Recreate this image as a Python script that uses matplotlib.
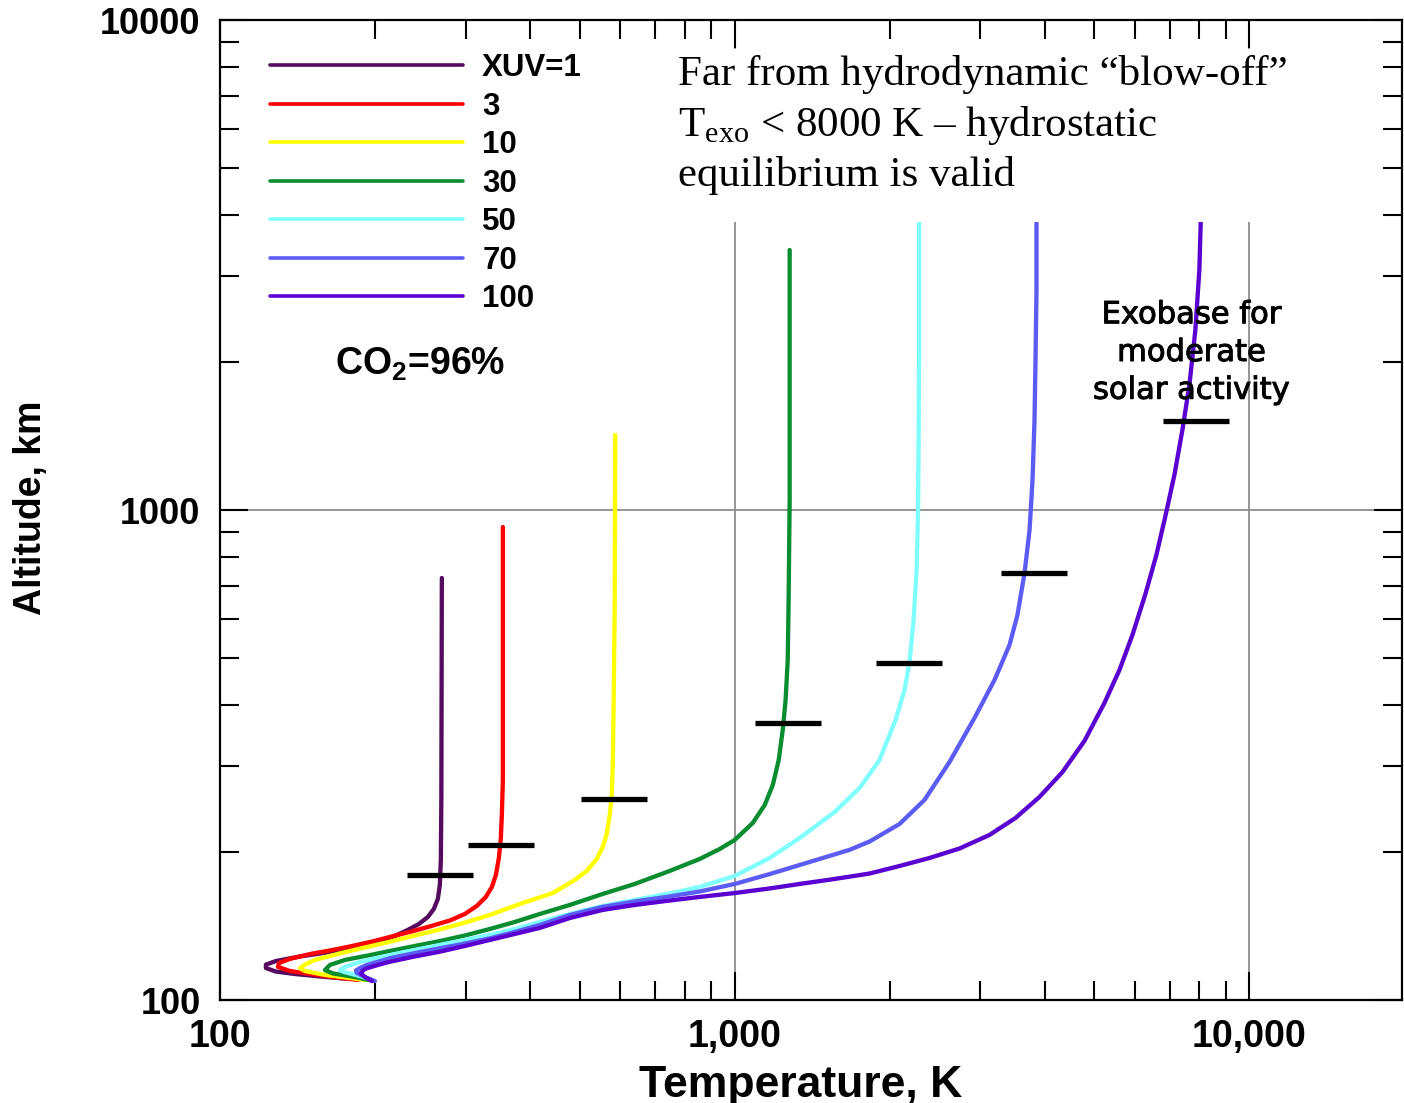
import matplotlib
matplotlib.use("Agg")
import matplotlib.pyplot as plt
import matplotlib.ticker as mticker
import matplotlib.patheffects as pe
from matplotlib.patches import Rectangle

plt.rcParams['mathtext.fontset'] = 'custom'
plt.rcParams['mathtext.rm'] = 'Liberation Serif'
plt.rcParams['mathtext.bf'] = 'Liberation Sans:bold'

# temperature (K) / altitude (km) profiles for CO2 = 96%, one per XUV flux level
xuv_labels = ['XUV=1', '3', '10', '30', '50', '70', '100']
xuv_colors = ['#55095f', '#ff0000', '#ffff00', '#0a8c30', '#80ffff', '#5c5cf5', '#5a00d0']

xuv1_T = [174.9, 156.4, 139.8, 128.4, 122.8, 122.8, 128.4, 143.0, 156.4, 171.0, 187.0, 204.5,
          218.7, 231.7, 243.4, 253.4, 260.3, 265.0, 267.4, 268.6, 269.2, 269.8]
xuv1_z = [110.6, 111.7, 113.0, 114.3, 116.2, 118.1, 120.1, 122.7, 124.4, 126.5, 128.9, 131.9,
          135.1, 139.0, 142.9, 147.7, 153.4, 160.7, 171.7, 193.1, 256.0, 726.5]

xuv3_T = [185.4, 167.2, 149.6, 136.7, 129.6, 130.2, 136.7, 149.6, 163.5, 178.8, 195.6, 213.9,
          233.9, 255.7, 279.7, 299.0, 315.5, 328.5, 337.5, 343.6, 348.2, 351.3, 352.9, 354.5, 354.5]
xuv3_z = [109.9, 111.2, 113.0, 114.6, 116.8, 119.0, 121.3, 124.1, 126.2, 128.6, 131.3, 134.5,
          137.7, 141.3, 145.3, 149.8, 155.6, 162.3, 170.1, 179.9, 194.9, 214.1, 238.6, 281.2, 923.3]

xuv10_T = [191.2, 178.8, 159.9, 146.2, 143.0, 146.2, 152.9, 171.0, 191.2, 213.9, 239.1, 267.4,
           299.0, 334.4, 382.3, 443.2, 489.1, 516.1, 539.5, 554.2, 564.2, 571.9, 577.0, 579.6,
           582.1, 584.8, 586.1]
xuv10_z = [109.9, 110.9, 112.5, 114.6, 116.1, 118.1, 120.7, 124.5, 128.0, 131.5, 135.4, 139.3,
           143.9, 149.1, 157.0, 165.3, 175.8, 183.4, 194.0, 205.2, 218.3, 238.6, 262.0, 301.7,
           409.4, 655.1, 1423]

xuv30_T = [193.8, 182.9, 165.7, 159.9, 163.5, 174.9, 195.6, 213.9, 239.1, 267.4, 299.0, 334.4,
           374.0, 418.2, 478.3, 554.2, 639.3, 747.8, 855.1, 935.3, 1000, 1084, 1144, 1186,
           1218, 1240, 1256, 1268, 1273, 1279, 1279]
xuv30_z = [109.9, 111.4, 113.3, 115.1, 117.9, 120.7, 123.5, 125.9, 128.9, 131.9, 135.4, 139.6,
           144.3, 149.8, 156.3, 164.6, 172.5, 183.4, 194.0, 203.3, 212.1, 229.7, 250.0, 274.7,
           309.0, 355.6, 409.4, 494.3, 655.1, 1048, 3394]

xuv50_T = [197.3, 187.0, 174.1, 171.0, 174.9, 187.0, 213.9, 239.1, 267.4, 299.0, 334.4, 374.0,
           418.2, 478.3, 554.2, 639.3, 747.8, 855.1, 1000, 1169.5, 1337, 1564, 1749, 1912,
           2054, 2138, 2187, 2227, 2257, 2272, 2277, 2282, 2282]
xuv50_z = [109.9, 111.9, 114.1, 115.1, 116.8, 119.6, 123.5, 126.5, 129.5, 132.6, 135.8, 139.6,
           144.3, 149.8, 155.6, 160.0, 165.0, 170.1, 179.1, 194.9, 214.1, 241.9, 270.8, 309.0,
           372.8, 429.2, 489.6, 596.5, 754.3, 1000, 1390, 2121, 4294]

xuv70_T = [200.0, 192.0, 184.5, 183.7, 187.0, 192.9, 213.9, 239.1, 267.4, 299.0, 334.4, 374.0,
           418.2, 478.3, 554.2, 639.3, 747.8, 855.1, 1000, 1169.5, 1462, 1672, 1829, 2091, 2338,
           2615, 2924, 3198, 3420, 3544, 3658, 3741, 3791, 3825, 3842, 3859, 3859]
xuv70_z = [109.3, 111.2, 113.5, 114.9, 116.2, 117.9, 121.7, 124.7, 127.5, 130.4, 133.6, 137.7,
           142.3, 149.1, 154.9, 158.9, 162.7, 166.5, 172.5, 180.7, 194.0, 202.5, 210.6, 228.7, 256.0,
           306.0, 376.3, 449.9, 530.2, 610.7, 743.5, 910.5, 1151, 1527, 2023, 2812, 4294]

xuv100_T = [197.3, 191.2, 187.8, 189.5, 192.9, 202.7, 213.9, 239.1, 267.4, 299.0, 334.4, 374.0,
            418.2, 478.3, 554.2, 639.3, 747.8, 855.1, 1000, 1169.5, 1337, 1564, 1829, 2091,
            2391, 2735, 3127, 3513, 3910, 4335, 4782, 5229, 5594, 5927, 6283, 6598, 6870,
            7152, 7413, 7648, 7855, 7997, 8069]
xuv100_z = [109.3, 111.4, 113.5, 114.9, 116.1, 117.9, 119.7, 122.7, 125.5, 128.9, 132.6, 136.4,
            140.3, 147.0, 152.7, 156.3, 159.6, 162.3, 165.3, 168.9, 172.5, 176.6, 181.2, 187.7,
            194.9, 203.8, 217.2, 235.2, 259.6, 291.9, 337.8, 403.7, 471.6, 555.7, 674.1, 809.4,
            972.2, 1179, 1457, 1799, 2330, 3089, 4294]

profiles_T = [xuv1_T, xuv3_T, xuv10_T, xuv30_T, xuv50_T, xuv70_T, xuv100_T]
profiles_z = [xuv1_z, xuv3_z, xuv10_z, xuv30_z, xuv50_z, xuv70_z, xuv100_z]

# exobase level for each profile
exo_T = [268, 352, 583, 1270, 2183, 3815, 7890]
exo_z = [180, 207, 257, 367, 488, 743, 1519]

x_ticks = [100, 1000, 10000]
y_ticks = [100, 1000, 10000]

fig = plt.figure(figsize=(14.04, 11.03), dpi=100)
ax = fig.add_axes([220 / 1404, 103 / 1103, 1182 / 1404, 980 / 1103])
ax.set_xscale('log')
ax.set_yscale('log')
ax.set_xlim(100, 19800)
ax.set_ylim(100, 10000)

lines = []
for T, z, c, lab in zip(profiles_T, profiles_z, xuv_colors, xuv_labels):
    ln, = ax.plot(T, z, color=c, lw=3.1, label=lab, solid_capstyle='round',
                  solid_joinstyle='round', zorder=2)
    lines.append(ln)

ax.plot(exo_T, exo_z, ls='none', marker='_', ms=47, mew=3.8, color='black', zorder=4)

ax.set_axisbelow(True)
ax.grid(True, which='major', color='#8c8c8c', lw=1.3)

ax.xaxis.set_major_locator(mticker.FixedLocator(x_ticks))
ax.yaxis.set_major_locator(mticker.FixedLocator(y_ticks))
ax.xaxis.set_major_formatter(mticker.FuncFormatter(lambda v, p: '{:,.0f}'.format(v)))
ax.yaxis.set_major_formatter(mticker.FuncFormatter(lambda v, p: '{:.0f}'.format(v)))
ax.xaxis.set_minor_locator(mticker.LogLocator(base=10, subs=range(2, 10), numticks=20))
ax.yaxis.set_minor_locator(mticker.LogLocator(base=10, subs=range(2, 10), numticks=20))
ax.xaxis.set_minor_formatter(mticker.NullFormatter())
ax.yaxis.set_minor_formatter(mticker.NullFormatter())

ax.tick_params(which='both', direction='in', top=True, right=True, width=1.5, color='black')
ax.tick_params(which='major', length=20, pad=14)
ax.tick_params(which='minor', length=13.5)
for lab in ax.get_yticklabels():
    lab.set_fontsize(26)
    lab.set_fontweight('bold')
    lab.set_family('Liberation Sans')
for lab in ax.get_xticklabels():
    lab.set_fontsize(27)
    lab.set_fontweight('bold')
    lab.set_family('Liberation Sans')

for sp in ax.spines.values():
    sp.set_linewidth(1.6)
    sp.set_zorder(5)

ax.set_xlabel('Temperature, K', fontsize=32, fontweight='bold', family='Liberation Sans')
ax.set_ylabel('Altitude, km', fontsize=27, fontweight='bold', family='Liberation Sans')
ax.xaxis.set_label_coords(0.491, -0.066)
ax.yaxis.set_label_coords(-0.145, 0.502)

leg = ax.legend(handles=lines, loc='upper left', bbox_to_anchor=(0.0423, 0.966),
                frameon=False, borderpad=0, borderaxespad=0, handlelength=6.18,
                handletextpad=0.61, labelspacing=0.27,
                prop={'family': 'Liberation Sans', 'weight': 'bold', 'size': 22.5})
for h in leg.legend_handles:
    h.set_linewidth(2.6)

ax.text(0.0972, 0.6378, r'CO$_{\mathbf{2}}$=96%', transform=ax.transAxes, fontsize=27,
        fontweight='bold', family='Liberation Sans', va='baseline', ha='left')

# white panel behind the upper note
ax.add_patch(Rectangle((0.3635, 0.7939), 0.55, 0.176, transform=ax.transAxes,
                       facecolor='white', edgecolor='none', zorder=2.5))
ax.text(0.3872, 0.964,
        'Far from hydrodynamic \u201cblow-off\u201d\n'
        'T$_{\\rm exo}$ < 8000 K \u2013 hydrostatic\n'
        'equilibrium is valid',
        transform=ax.transAxes, fontsize=31, family='Liberation Serif',
        va='top', ha='left', linespacing=1.3, zorder=3)

ax.text(0.8217, 0.714, 'Exobase for\nmoderate\nsolar activity', transform=ax.transAxes,
        fontsize=22, family='DejaVu Sans', va='top', ha='center',
        multialignment='center', linespacing=1.38, zorder=3,
        path_effects=[pe.withStroke(linewidth=0.7, foreground='black')])

plt.savefig('out.png', dpi=100)
